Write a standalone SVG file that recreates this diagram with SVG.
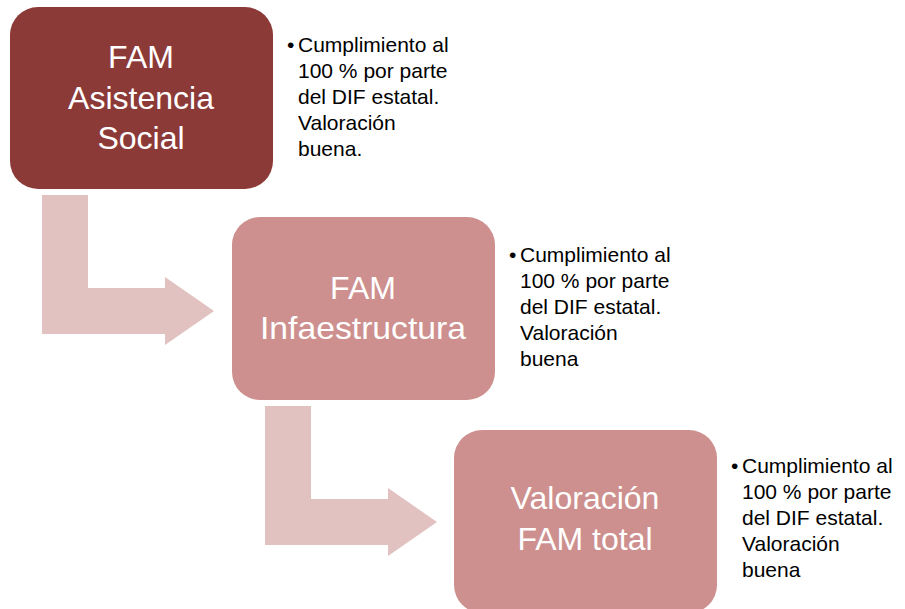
<svg xmlns="http://www.w3.org/2000/svg" width="905" height="609" viewBox="0 0 905 609">
  <style>
    .lbl { font-family: "Liberation Sans", Arial, sans-serif; font-size: 32px; fill: #ffffff; text-anchor: middle; }
    .side { font-family: "Liberation Sans", Arial, sans-serif; font-size: 21px; fill: #000000; }
    .arrow { fill: #E2C1C1; }
    .dark { fill: #8C3A38; }
    .light { fill: #CD908E; }
  </style>
  <rect width="905" height="609" fill="#ffffff"/>
  <g id="connectors">
    <path class="arrow" d="M42,195 H88 V288 H165 V277 L214,311 L165,345 V334 H42 Z"/>
    <path class="arrow" d="M265,406 H311 V499 H388 V488 L437,522 L388,556 V545 H265 Z"/>
  </g>
  <g id="node-asistencia">
    <rect class="dark" x="10" y="7" width="263" height="182" rx="28" ry="28"/>
    <text class="lbl" x="141" y="68">FAM</text>
    <text class="lbl" x="141" y="109">Asistencia</text>
    <text class="lbl" x="141" y="149">Social</text>
  </g>
  <g id="note-asistencia" class="side">
    <text x="287" y="52">•</text>
    <text x="298" y="52">Cumplimiento al</text>
    <text x="298" y="78">100 % por parte</text>
    <text x="298" y="104">del DIF estatal.</text>
    <text x="298" y="130">Valoración</text>
    <text x="298" y="156">buena.</text>
  </g>
  <g id="node-infraestructura">
    <rect class="light" x="232" y="217" width="263" height="183" rx="28" ry="28"/>
    <text class="lbl" x="363" y="299">FAM</text>
    <text class="lbl" x="363" y="339" textLength="206" lengthAdjust="spacingAndGlyphs">Infaestructura</text>
  </g>
  <g id="note-infraestructura" class="side">
    <text x="509" y="262">•</text>
    <text x="520" y="262">Cumplimiento al</text>
    <text x="520" y="288">100 % por parte</text>
    <text x="520" y="314">del DIF estatal.</text>
    <text x="520" y="340">Valoración</text>
    <text x="520" y="366">buena</text>
  </g>
  <g id="node-total">
    <rect class="light" x="454" y="430" width="263" height="183" rx="28" ry="28"/>
    <text class="lbl" x="585" y="509">Valoración</text>
    <text class="lbl" x="585" y="550">FAM total</text>
  </g>
  <g id="note-total" class="side">
    <text x="731" y="473">•</text>
    <text x="742" y="473">Cumplimiento al</text>
    <text x="742" y="499">100 % por parte</text>
    <text x="742" y="525">del DIF estatal.</text>
    <text x="742" y="551">Valoración</text>
    <text x="742" y="577">buena</text>
  </g>
</svg>
